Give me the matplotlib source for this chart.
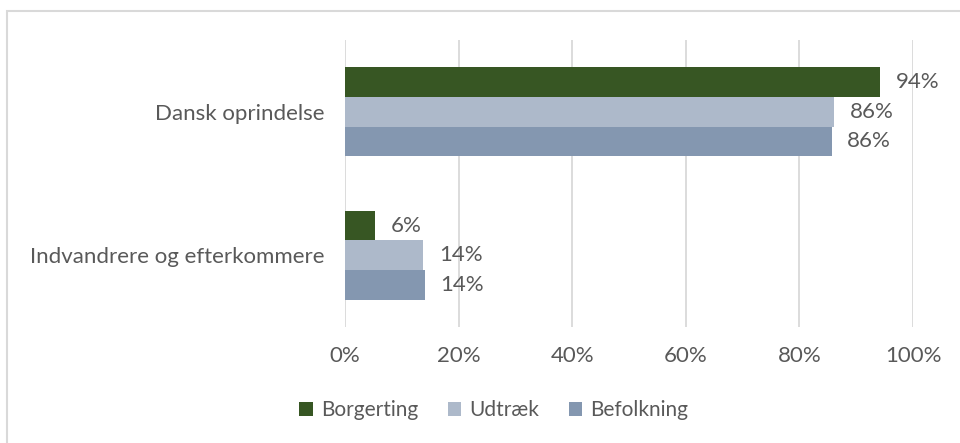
import numpy as np
import matplotlib.pyplot as plt
from matplotlib.patches import Rectangle

# Data (share of group, %)
categories = ["Dansk oprindelse", "Indvandrere og efterkommere"]
series_names = ["Borgerting", "Udtræk", "Befolkning"]
borgerting = [94.2, 5.3]
udtraek = [86.1, 13.8]
befolkning = [85.7, 14.1]
bar_labels = [["94%", "6%"], ["86%", "14%"], ["86%", "14%"]]
xticks = [0, 20, 40, 60, 80, 100]
xtick_labels = ["0%", "20%", "40%", "60%", "80%", "100%"]

colors = ["#375623", "#ADB9CA", "#8497B0"]
text_color = "#595959"
grid_color = "#D9D9D9"

plt.rcParams["font.family"] = ["Lato", "DejaVu Sans"]

fig = plt.figure(figsize=(9.6, 4.43), dpi=100)
ax = fig.add_axes([345 / 960, 1 - 327 / 443, 568 / 960, 287 / 443])

# outer chart border (only left and top edges are visible in the crop)
fig.patches.append(Rectangle((6.5 / 960, -0.1), 1.2, 1 - 11.5 / 443 + 0.1,
                             transform=fig.transFigure, fill=False,
                             edgecolor=grid_color, linewidth=1.5))

y = np.arange(len(categories))
h = 0.207
values = [borgerting, udtraek, befolkning]
for i, (name, vals) in enumerate(zip(series_names, values)):
    offs = (i - 1) * h
    bars = ax.barh(y + offs, vals, height=h, color=colors[i], label=name, zorder=3)
    for b, lab in zip(bars, bar_labels[i]):
        ax.text(b.get_width() + 2.7, b.get_y() + h / 2, lab, va="center", ha="left",
                fontsize=16, color=text_color)

ax.set_xlim(0, 100)
ax.set_ylim(1.5, -0.5)
ax.set_yticks(y)
ax.set_yticklabels(categories, fontsize=16, color=text_color)
ax.set_xticks(xticks)
ax.set_xticklabels(xtick_labels, fontsize=16, color=text_color)
ax.tick_params(axis="both", length=0)
ax.tick_params(axis="x", pad=14)
ax.tick_params(axis="y", pad=15)
ax.grid(axis="x", color=grid_color, linewidth=1.3, zorder=0)
for s in ax.spines.values():
    s.set_visible(False)

fig.legend(loc="center", bbox_to_anchor=(494 / 960, 1 - 410 / 443), ncol=3, frameon=False,
           fontsize=15, handlelength=0.65, handleheight=0.65, handletextpad=0.4,
           columnspacing=1.4, labelcolor=text_color)

fig.savefig("out.png", dpi=100)
